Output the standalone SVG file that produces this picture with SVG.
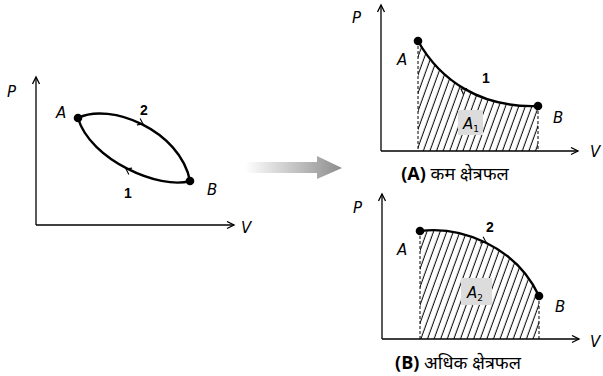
<svg xmlns="http://www.w3.org/2000/svg" width="603" height="376" viewBox="0 0 603 376">
<style>
.ax{stroke:#000;stroke-width:1.3;fill:none}
.cv{stroke:#000;stroke-width:2.4;fill:none}
.dash{stroke:#000;stroke-width:1;stroke-dasharray:3,2;fill:none}
.chev{stroke:#000;stroke-width:1.1;fill:none}
.lbl{font-family:"DejaVu Sans","Liberation Sans",Arial,sans-serif;font-style:italic;font-size:15px;fill:#000}
.num{font-family:"Liberation Sans",Arial,sans-serif;font-size:14px;font-weight:bold;fill:#000}
.cap{font-family:"Noto Sans","Noto Sans Devanagari","Lohit Devanagari","FreeSans",sans-serif;font-size:18px;fill:#000}
.capb{font-family:"Open Sans","Liberation Sans",Arial,sans-serif;font-weight:bold}
.box{fill:#dcdcdc}
</style>
<defs>
<marker id="ah" markerWidth="10" markerHeight="10" refX="8" refY="4" orient="auto" markerUnits="userSpaceOnUse">
<path d="M1,0.5 L8,4 L1,7.5" fill="none" stroke="#000" stroke-width="1.3"/>
</marker>
<linearGradient id="gr" x1="245" y1="0" x2="342" y2="0" gradientUnits="userSpaceOnUse">
<stop offset="0" stop-color="#fff"/>
<stop offset="1" stop-color="#8c8c8c"/>
</linearGradient>
<pattern id="hatch" width="6.2" height="10" patternUnits="userSpaceOnUse" patternTransform="rotate(20)">
<line x1="3" y1="-1" x2="3" y2="11" stroke="#000" stroke-width="1"/>
</pattern>
<clipPath id="c1"><path d="M418,41 C440,80 480,108 538,106 L538,151 L418,151 Z"/></clipPath>
<clipPath id="c2"><path d="M420,231 C460,226 515,245 539,296 L539,339 L420,339 Z"/></clipPath>
</defs>

<g id="left-plot">
<path class="ax" d="M36,225 L36,77" marker-end="url(#ah)"/>
<path class="ax" d="M36,225 L234,225" marker-end="url(#ah)"/>
<text class="lbl" x="7" y="97">P</text>
<text class="lbl" x="241" y="233">V</text>
</g>
<g id="left-loop">
<path class="cv" d="M78,118 C110,102 180,130 190,181"/>
<path class="cv" d="M190,181 C160,190 90,160 78,118"/>
<path class="chev" d="M-5,-3.5 L0,0 L-5,3.5" transform="translate(143,124) rotate(27)"/>
<path class="chev" d="M-5,-3.5 L0,0 L-5,3.5" transform="translate(126,169) rotate(207)"/>
<circle cx="78" cy="118" r="4.3"/>
<circle cx="190" cy="181" r="4.3"/>
<text class="lbl" x="56" y="118">A</text>
<text class="lbl" x="207" y="195">B</text>
<text class="num" x="140" y="115">2</text>
<text class="num" x="124" y="198">1</text>
</g>

<g id="transition-arrow">
<polygon points="245,162 317,162 317,156 342,168 317,179 317,173 245,173" fill="url(#gr)"/>
</g>

<g id="plot-a">
<path class="ax" d="M381,151 L381,5" marker-end="url(#ah)"/>
<path class="ax" d="M381,151 L578,151" marker-end="url(#ah)"/>
<rect x="418" y="41" width="120" height="110" fill="url(#hatch)" clip-path="url(#c1)"/>
<line class="dash" x1="418" y1="41" x2="418" y2="151"/>
<line class="dash" x1="538" y1="106" x2="538" y2="151"/>
<rect class="box" x="458" y="110" width="25" height="25"/>
<text class="lbl" x="463" y="129">A<tspan font-size="9" font-style="normal" dy="3">1</tspan></text>
<path class="cv" d="M418,41 C440,80 480,108 538,106"/>
<path class="chev" d="M-5,-3.5 L0,0 L-5,3.5" transform="translate(461,89) rotate(210)"/>
<circle cx="418" cy="41" r="4.3"/>
<circle cx="538" cy="106" r="4.3"/>
<text class="lbl" x="352" y="23">P</text>
<text class="lbl" x="397" y="65">A</text>
<text class="lbl" x="553" y="123">B</text>
<text class="lbl" x="590" y="157">V</text>
<text class="num" x="482" y="83">1</text>
<text class="cap" x="455" y="180" text-anchor="middle"><tspan class="capb">(A)</tspan> कम क्षेत्रफल</text>
</g>

<g id="plot-b">
<path class="ax" d="M382,339 L382,194" marker-end="url(#ah)"/>
<path class="ax" d="M382,339 L579,339" marker-end="url(#ah)"/>
<rect x="420" y="225" width="120" height="115" fill="url(#hatch)" clip-path="url(#c2)"/>
<line class="dash" x1="420" y1="231" x2="420" y2="339"/>
<line class="dash" x1="539" y1="296" x2="539" y2="339"/>
<rect class="box" x="461" y="278" width="31" height="27"/>
<text class="lbl" x="467" y="298">A<tspan font-size="9" font-style="normal" dy="3">2</tspan></text>
<path class="cv" d="M420,231 C460,226 515,245 539,296"/>
<path class="chev" d="M-5,-3.5 L0,0 L-5,3.5" transform="translate(486,242) rotate(26)"/>
<circle cx="420" cy="231" r="4.3"/>
<circle cx="539" cy="296" r="4.3"/>
<text class="lbl" x="353" y="213">P</text>
<text class="lbl" x="397" y="255">A</text>
<text class="lbl" x="555" y="312">B</text>
<text class="lbl" x="590" y="347">V</text>
<text class="num" x="486" y="232">2</text>
<text class="cap" x="458" y="369" text-anchor="middle"><tspan class="capb">(B)</tspan> अधिक क्षेत्रफल</text>
</g>
</svg>
